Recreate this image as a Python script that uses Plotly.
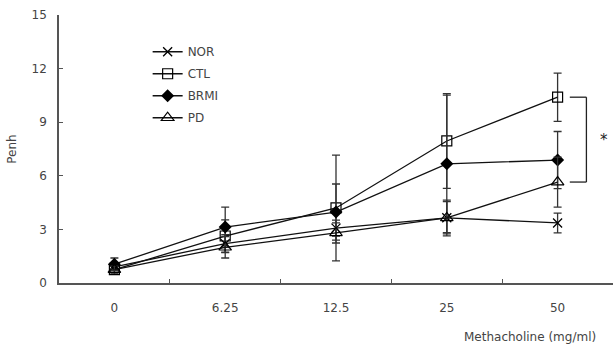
import plotly.graph_objects as go

categories = ["0", "6.25", "12.5", "25", "50"]
nor = [0.9, 2.2, 3.07, 3.65, 3.36]
nor_err = [0.2, 0.5, 0.45, 0.9, 0.55]
ctl = [0.75, 2.63, 4.2, 7.95, 10.4]
ctl_err = [0.25, 0.9, 2.96, 2.65, 1.35]
brmi = [1.05, 3.13, 3.97, 6.67, 6.88]
brmi_err = [0.35, 1.12, 1.57, 3.85, 1.6]
pd_ = [0.75, 2.0, 2.8, 3.64, 5.65]
pd_err = [0.2, 0.6, 0.56, 1.0, 1.4]
y_ticks = [0, 3, 6, 9, 12, 15]

xs = list(range(len(categories)))
FONT = "DejaVu Sans"

series = [
    ("NOR", nor, nor_err, dict(symbol="x-thin-open", size=9, color="black", line=dict(width=1.3, color="black"))),
    ("CTL", ctl, ctl_err, dict(symbol="square-open", size=10, color="black", line=dict(width=1.2, color="black"))),
    ("BRMI", brmi, brmi_err, dict(symbol="diamond", size=10, color="black", line=dict(width=0, color="black"))),
    ("PD", pd_, pd_err, dict(symbol="triangle-up-open", size=11, color="black", line=dict(width=1.2, color="black"))),
]

fig = go.Figure()
for name, vals, errs, mk in series:
    fig.add_trace(go.Scatter(
        x=xs, y=vals, name=name, legendgroup=name, mode="lines+markers",
        line=dict(color="#111", width=1.3),
        marker=mk,
        error_y=dict(type="data", array=errs, visible=True, color="#333", thickness=1.3, width=4),
    ))

# significance bracket between CTL and PD at the last dose
bx0, bx1 = 4.11, 4.26
fig.add_shape(type="line", xref="x", yref="y", x0=bx0, x1=bx1, y0=ctl[-1], y1=ctl[-1], line=dict(color="#222", width=1.3))
fig.add_shape(type="line", xref="x", yref="y", x0=bx1, x1=bx1, y0=ctl[-1], y1=pd_[-1], line=dict(color="#222", width=1.3))
fig.add_shape(type="line", xref="x", yref="y", x0=bx0, x1=bx1, y0=pd_[-1], y1=pd_[-1], line=dict(color="#222", width=1.3))
fig.add_annotation(x=4.42, y=(ctl[-1] + pd_[-1]) / 2, xref="x", yref="y", text="*", showarrow=False,
                   font=dict(family=FONT, size=15, color="#222"))

fig.add_annotation(x=0.728, y=-0.2, xref="paper", yref="paper", text="Methacholine (mg/ml)",
                   showarrow=False, xanchor="left", yanchor="middle",
                   font=dict(family=FONT, size=12, color="#444"))

fig.update_layout(
    width=614, height=349,
    margin=dict(l=59, r=1, t=15, b=66),
    paper_bgcolor="white", plot_bgcolor="white",
    showlegend=True,
    legend=dict(x=0.16, y=0.917, xanchor="left", yanchor="top", bgcolor="rgba(0,0,0,0)",
                font=dict(family=FONT, size=12, color="#444"), itemwidth=30, tracegroupgap=3),
    font=dict(family=FONT, size=12, color="#444"),
)
fig.update_xaxes(
    range=[-0.5, 4.5], tickmode="array", tickvals=xs, ticktext=categories,
    showgrid=False, zeroline=False, showline=True, linecolor="#555", linewidth=1.5,
    ticks="", ticklabelstandoff=13, tickfont=dict(family=FONT, size=12, color="#444"),
)
# boundary ticks for categorical axis via minor ticks
fig.update_xaxes(minor=dict(tickmode="array", tickvals=[0.5, 1.5, 2.5, 3.5], ticks="inside", ticklen=4,
                            tickcolor="#555", tickwidth=1.3, showgrid=False))
fig.update_yaxes(
    range=[0, 15], tickmode="array", tickvals=y_ticks,
    showgrid=False, zeroline=False, showline=True, linecolor="#555", linewidth=1.5,
    ticks="inside", ticklen=4, tickcolor="#555", tickwidth=1.3, ticklabelstandoff=8,
    tickfont=dict(family=FONT, size=12, color="#444"),
    title=dict(text="Penh", font=dict(family=FONT, size=12, color="#444"), standoff=12),
)

fig.write_html("out.html")
